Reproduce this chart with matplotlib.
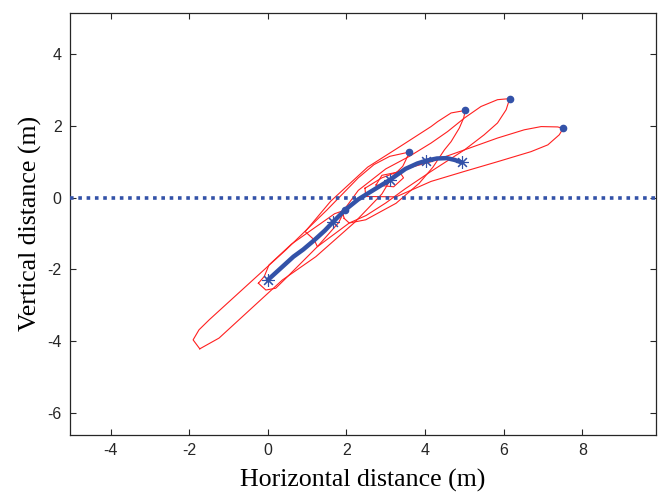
import matplotlib
matplotlib.use("Agg")
import matplotlib.pyplot as plt

plt.rcParams["axes.unicode_minus"] = False

# ---- data ----
# blue trajectory
traj_x = [0.0, 0.3, 0.65, 0.9, 1.18, 1.45, 1.65, 1.96, 2.3, 2.7, 3.1, 3.5, 3.8, 4.03, 4.3, 4.55, 4.75, 4.93]
traj_y = [-2.3, -2.0, -1.65, -1.45, -1.19, -0.92, -0.69, -0.35, -0.05, 0.22, 0.49, 0.8, 0.95, 1.03, 1.09, 1.1, 1.05, 0.98]
# star markers along trajectory
star_x = [0.0, 1.65, 3.1, 4.03, 4.93]
star_y = [-2.3, -0.69, 0.49, 1.03, 0.98]
# envelope tip dots
dot_x = [1.96, 3.60, 5.02, 6.15, 7.51]
dot_y = [-0.35, 1.27, 2.43, 2.76, 1.93]

# red envelope outlines
env_big_x = [-1.73, -1.90, -1.75, -1.49, 0.46, 1.5, 2.3, 2.7, 3.1, 3.60, 3.51, 3.43, 3.17, 2.9, 2.2, 1.22, 0.37, -1.24, -1.73]
env_big_y = [-4.22, -3.97, -3.69, -3.41, -1.46, -0.35, 0.55, 0.92, 1.15, 1.27, 1.05, 0.87, 0.59, 0.1, -0.7, -1.65, -2.30, -3.92, -4.22]

env_start_x = [-0.24, -0.09, 0.03, 0.6, 1.18, 1.7, 1.96, 1.8, 1.26, 0.46, 0.2, -0.05, -0.24]
env_start_y = [-2.39, -2.2, -1.88, -1.3, -0.85, -0.45, -0.35, -0.7, -1.37, -2.25, -2.53, -2.58, -2.39]

env_b_x = [1.18, 1.26, 2.07, 2.49, 3.26, 3.85, 4.2, 4.49, 4.66, 4.87, 4.98, 5.02, 4.66, 4.32, 4.15, 3.4, 2.54, 1.6, 0.95, 1.18]
env_b_y = [-1.18, -1.37, -0.71, -0.62, -0.16, 0.40, 0.85, 1.33, 1.56, 1.94, 2.22, 2.43, 2.36, 2.12, 1.98, 1.45, 0.85, -0.1, -0.95, -1.18]

env_c_x = [1.94, 1.9, 2.3, 3.0, 3.6, 4.15, 4.57, 5.0, 5.42, 5.84, 6.15, 6.06, 5.84, 5.5, 5.0, 4.15, 3.5, 3.0, 2.5, 2.07, 1.94]
env_c_y = [-0.58, -0.4, 0.2, 0.8, 1.15, 1.52, 1.84, 2.22, 2.54, 2.73, 2.76, 2.45, 2.08, 1.75, 1.33, 0.73, 0.25, -0.15, -0.5, -0.71, -0.58]

env_d_x = [2.47, 2.9, 3.5, 4.15, 5.0, 5.84, 6.52, 6.95, 7.37, 7.51, 7.41, 7.12, 6.69, 5.84, 5.0, 4.15, 3.26, 2.49, 2.47]
env_d_y = [0.26, 0.55, 0.8, 1.0, 1.33, 1.66, 1.89, 1.98, 1.97, 1.93, 1.75, 1.47, 1.28, 1.0, 0.73, 0.45, 0.02, 0.03, 0.26]

env_mid_x = [2.75, 2.9, 3.35, 3.45, 3.2, 2.75]
env_mid_y = [0.35, 0.62, 0.72, 0.55, 0.3, 0.35]

ref_y = 0.0
x_ticks = [-4, -2, 0, 2, 4, 6, 8]
y_ticks = [-6, -4, -2, 0, 2, 4]

# ---- plot ----
BLUE = "#3352a8"
RED = "#ff2020"

fig = plt.figure(figsize=(6.59, 4.92), dpi=100)
ax = fig.add_axes([70 / 659, 1 - 434.5 / 492, (656 - 70) / 659, (434.5 - 13.3) / 492])

for ex, ey in [(env_big_x, env_big_y), (env_start_x, env_start_y), (env_b_x, env_b_y),
               (env_c_x, env_c_y), (env_d_x, env_d_y), (env_mid_x, env_mid_y)]:
    ax.plot(ex, ey, color=RED, lw=0.8, zorder=2)

ax.axhline(ref_y, color=BLUE, lw=2.6, linestyle=(0, (1.0, 1.3)), zorder=3)
ax.plot(traj_x, traj_y, color=BLUE, lw=3.2, solid_capstyle="round", zorder=4)
ax.plot(star_x, star_y, linestyle="none", marker=(8, 2, 0), markersize=9,
        markeredgecolor=BLUE, markeredgewidth=0.8, zorder=5)
ax.plot(dot_x, dot_y, linestyle="none", marker="o", markersize=4.5,
        color=BLUE, zorder=5)

ax.set_xlim(-5.03, 9.87)
ax.set_ylim(-6.61, 5.14)
ax.set_xticks(x_ticks)
ax.set_yticks(y_ticks)
ax.tick_params(direction="in", length=4, width=0.8, top=True, right=True,
               labelsize=11.5, colors="#262626", pad=6)
for lab in ax.get_xticklabels() + ax.get_yticklabels():
    lab.set_fontfamily("Liberation Sans")
for s in ax.spines.values():
    s.set_linewidth(0.9)
    s.set_color("#262626")

ax.set_xlabel("Horizontal distance (m)", fontfamily="Liberation Serif", fontsize=18.6, labelpad=8)
ax.set_ylabel("Vertical distance (m)", fontfamily="Liberation Serif", fontsize=18.6, labelpad=4)

fig.savefig("out.png", dpi=100)
